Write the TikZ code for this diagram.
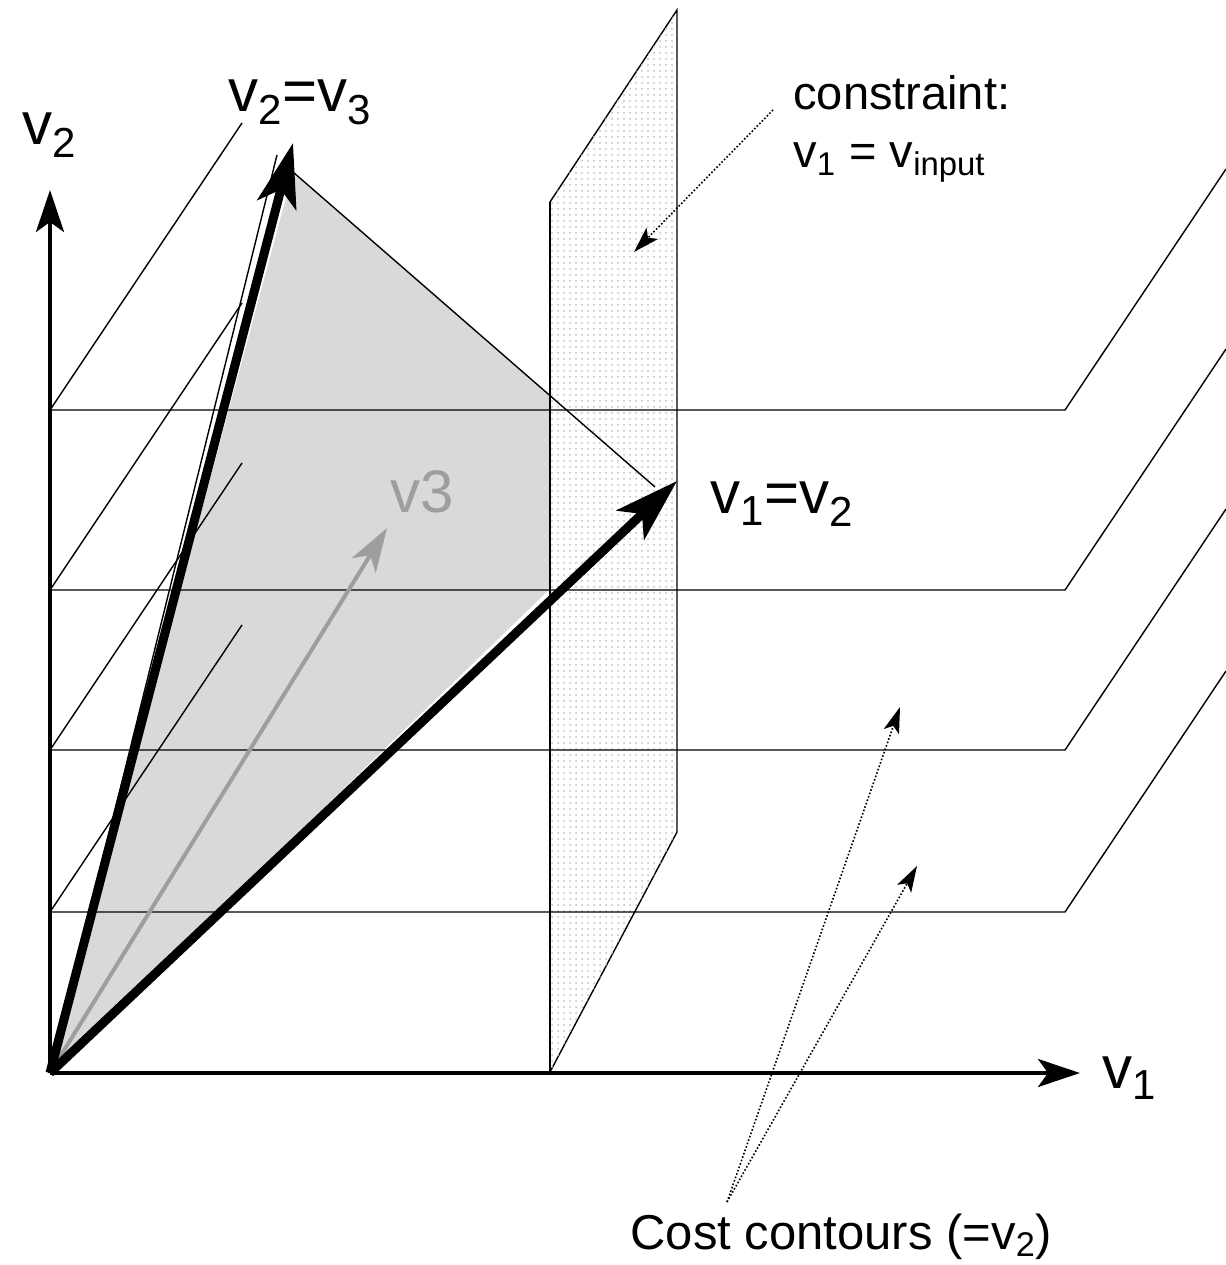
\documentclass[tikz,border=0pt]{standalone}
\usepackage{fontspec}
\setmainfont{Liberation Sans}
\usetikzlibrary{arrows.meta, patterns}

\begin{document}
\begin{tikzpicture}[x=0.5pt, y=0.5pt,
			>={Stealth[length=21pt, width=14pt, inset=5pt]},   %Pfeilspitzen
			thinline/.style={line width=0.7pt},
			vec/.style={line width=4.5pt, -{Stealth[length=32pt, width=20pt, inset=8pt]}},
			hint/.style={densely dotted, line width=0.8pt, -{Stealth[length=13pt, width=8pt, inset=3pt]}},
			big/.style={font=\fontsize{30}{36}\selectfont},
			small/.style={font=\fontsize{23.5}{28}\selectfont}]
			%Bildbereich
			\useasboundingbox (-50,-192) rectangle (1176,1073);
			% Punkte
			\coordinate (O) at (0,0);
			\coordinate (top) at (243,901);
			\coordinate (right) at (605,586);
			% Dreieck
			\fill[black!15] (O) -- (top) -- (right) -- cycle;
			% Ebene v1 = const
			\filldraw[thinline, fill=white, postaction={pattern=dots, pattern color=black!25}]
				(500,1) -- (500,871) -- (627,1063) -- (627,241) -- cycle;
			% Hoehenlinien
			\foreach \y in {161,323,483,663}
				\draw[thinline] (192,\y+287) -- (0,\y) -- (1015,\y) -- +(161,241);
			\draw[thinline] (500,1) -- (500,871);
			\draw[thinline] (top) -- (right);
			\draw[thinline] (O) -- (227,918);
			% Vektoren
			\draw[black!38, line width=2pt, -{Stealth[length=22pt, width=14pt, inset=6pt]}] (O) -- (337,545) coordinate (v3);
			\draw[vec] (O) -- (243,930) coordinate (v23);
			\draw[vec] (O) -- (627,592) coordinate (v12);
			% Achsen
			\draw[->, line width=2pt] (O) -- (1030,0) coordinate (xend);
			\draw[->, line width=2pt] (O) -- (0,883) coordinate (yend);
			% Beschriftung
			\node[big, anchor=base west, inner sep=0pt] (lx) at (1052,-15) {v\textsubscript{1}};
			\node[big, anchor=base west, inner sep=0pt] (ly) at (-28,928) {v\textsubscript{2}};
			\node[big, anchor=base west, inner sep=0pt] (l23) at (178,961) {v\textsubscript{2}=v\textsubscript{3}};
			\node[big, anchor=base west, inner sep=0pt] (l12) at (660,559) {v\textsubscript{1}=v\textsubscript{2}};
			\node[big, black!38, anchor=base west, inner sep=0pt] (l3) at (340,560) {v3};
			\node[small, anchor=base west, inner sep=0pt] (con) at (743,963) {constraint:};
			\node[small, anchor=base west, inner sep=0pt] (coneq) at (743,905) {v\textsubscript{1} = v\textsubscript{input}};
			\node[small, font=\fontsize{24.5}{29}\selectfont, anchor=base west, inner sep=0pt] (cost) at (580,-176) {Cost contours (=v\textsubscript{2})};
			% Hinweispfeile
			\coordinate (cs) at (723,963);
			\coordinate (ct) at (584,821);
			\draw[hint] (cs) -- (ct);
			\coordinate (cc) at (677,-129);
			\coordinate (ca) at (850,366);
			\coordinate (cb) at (867,207);
			\draw[hint] (cc) -- (ca);
			\draw[hint] (cc) -- (cb);
		\end{tikzpicture}
\end{document}
